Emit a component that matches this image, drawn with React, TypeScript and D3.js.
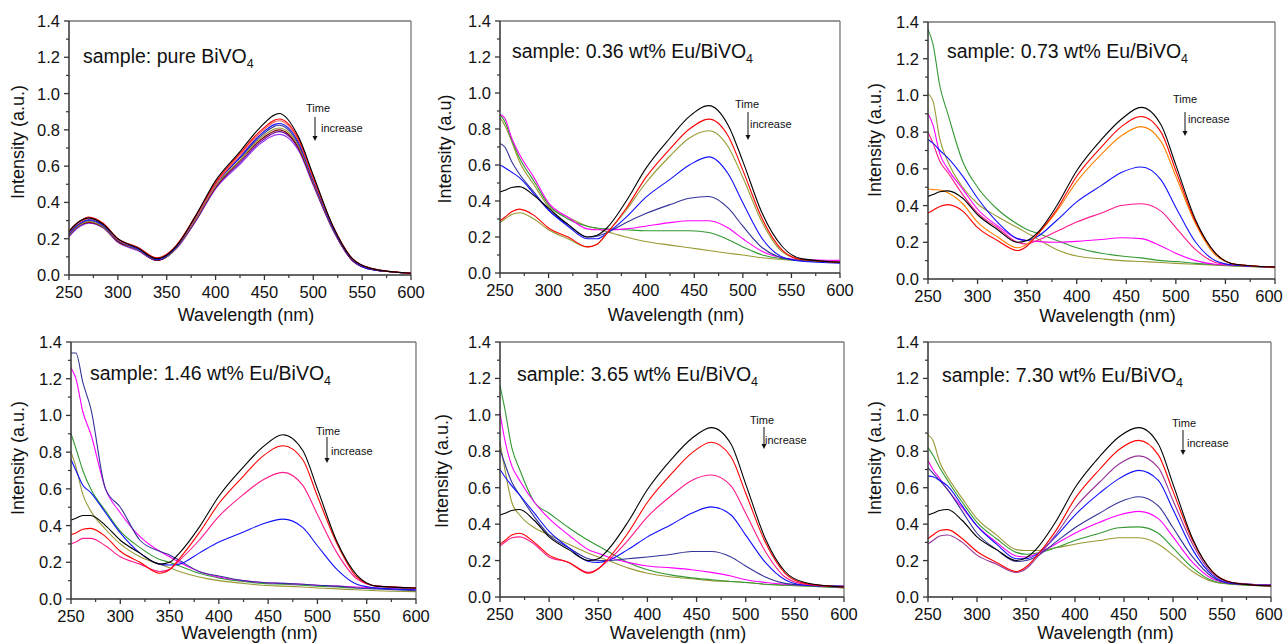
import React from "react";
import * as d3 from "d3";

// ---------- DATA ----------
const wavelengths = [250, 255, 262, 270, 285, 300, 320, 340, 350, 360, 380, 400, 425, 445, 465, 485, 500, 520, 540, 560, 600];
const xTicks = [250, 300, 350, 400, 450, 500, 550, 600];
const yTicks = [0.0, 0.2, 0.4, 0.6, 0.8, 1.0, 1.2, 1.4];

const sampleNames = ["pure BiVO", "0.36 wt% Eu/BiVO", "0.73 wt% Eu/BiVO", "1.46 wt% Eu/BiVO", "3.65 wt% Eu/BiVO", "7.30 wt% Eu/BiVO"];
const yTitles = ["Intensity (a.u.)", "Intensity (a.u)", "Intensity (a.u.)", "Intensity (a.u.)", "Intensity (a.u.)", "Intensity (a.u.)"];

// panel 1: pure BiVO4
const p1Black = [0.24, 0.27, 0.30, 0.315, 0.28, 0.20, 0.15, 0.09, 0.11, 0.16, 0.33, 0.52, 0.68, 0.81, 0.89, 0.76, 0.55, 0.27, 0.09, 0.035, 0.01];
const p1Red = [0.24, 0.27, 0.30, 0.32, 0.285, 0.20, 0.155, 0.095, 0.115, 0.165, 0.33, 0.51, 0.67, 0.79, 0.86, 0.75, 0.54, 0.27, 0.09, 0.035, 0.01];
const p1LightRed = [0.235, 0.265, 0.295, 0.31, 0.28, 0.195, 0.15, 0.09, 0.11, 0.16, 0.32, 0.50, 0.66, 0.78, 0.85, 0.74, 0.53, 0.27, 0.09, 0.035, 0.01];
const p1Blue = [0.23, 0.26, 0.29, 0.305, 0.275, 0.195, 0.145, 0.085, 0.105, 0.155, 0.32, 0.50, 0.65, 0.77, 0.835, 0.73, 0.52, 0.26, 0.085, 0.03, 0.01];
const p1Navy = [0.225, 0.255, 0.285, 0.30, 0.27, 0.19, 0.145, 0.085, 0.105, 0.155, 0.32, 0.50, 0.645, 0.76, 0.825, 0.72, 0.52, 0.26, 0.085, 0.03, 0.01];
const p1Olive = [0.22, 0.25, 0.28, 0.295, 0.265, 0.19, 0.14, 0.085, 0.10, 0.15, 0.31, 0.49, 0.635, 0.75, 0.81, 0.71, 0.51, 0.255, 0.085, 0.03, 0.01];
const p1Wine = [0.22, 0.25, 0.28, 0.29, 0.265, 0.185, 0.14, 0.08, 0.10, 0.15, 0.31, 0.485, 0.63, 0.74, 0.80, 0.70, 0.505, 0.255, 0.08, 0.03, 0.01];
const p1Purple = [0.215, 0.245, 0.275, 0.29, 0.26, 0.185, 0.14, 0.08, 0.10, 0.15, 0.30, 0.48, 0.62, 0.73, 0.79, 0.695, 0.50, 0.25, 0.08, 0.03, 0.01];
const p1Violet = [0.21, 0.24, 0.27, 0.285, 0.26, 0.18, 0.135, 0.08, 0.10, 0.145, 0.30, 0.475, 0.61, 0.72, 0.775, 0.685, 0.495, 0.25, 0.08, 0.03, 0.01];

// panel 2: 0.36 wt%
const p2Black = [0.45, 0.46, 0.475, 0.48, 0.43, 0.36, 0.27, 0.20, 0.21, 0.25, 0.40, 0.58, 0.75, 0.87, 0.93, 0.82, 0.62, 0.33, 0.15, 0.08, 0.06];
const p2Red = [0.29, 0.31, 0.34, 0.355, 0.32, 0.25, 0.20, 0.145, 0.16, 0.22, 0.36, 0.53, 0.69, 0.80, 0.855, 0.76, 0.57, 0.30, 0.13, 0.075, 0.06];
const p2Olive1 = [0.28, 0.30, 0.325, 0.335, 0.30, 0.24, 0.19, 0.145, 0.16, 0.22, 0.35, 0.50, 0.65, 0.75, 0.79, 0.70, 0.53, 0.28, 0.12, 0.075, 0.06];
const p2Blue = [0.60, 0.585, 0.56, 0.53, 0.44, 0.35, 0.26, 0.19, 0.19, 0.22, 0.31, 0.42, 0.52, 0.60, 0.645, 0.55, 0.39, 0.19, 0.09, 0.065, 0.055];
const p2Navy = [0.72, 0.70, 0.62, 0.55, 0.45, 0.35, 0.27, 0.20, 0.205, 0.225, 0.28, 0.33, 0.38, 0.415, 0.425, 0.36, 0.26, 0.14, 0.085, 0.07, 0.06];
const p2Magenta = [0.88, 0.86, 0.75, 0.66, 0.53, 0.39, 0.31, 0.245, 0.24, 0.24, 0.245, 0.26, 0.28, 0.29, 0.29, 0.25, 0.19, 0.12, 0.085, 0.075, 0.07];
const p2Green = [0.88, 0.84, 0.74, 0.64, 0.51, 0.38, 0.30, 0.26, 0.25, 0.245, 0.24, 0.235, 0.235, 0.235, 0.225, 0.185, 0.145, 0.10, 0.08, 0.07, 0.065];
const p2Olive2 = [0.86, 0.82, 0.73, 0.62, 0.49, 0.37, 0.31, 0.26, 0.245, 0.23, 0.20, 0.175, 0.155, 0.14, 0.125, 0.11, 0.10, 0.085, 0.075, 0.07, 0.065];

// panel 3: 0.73 wt%
const p3Black = [0.45, 0.46, 0.475, 0.48, 0.44, 0.35, 0.27, 0.20, 0.21, 0.25, 0.40, 0.59, 0.76, 0.87, 0.935, 0.84, 0.62, 0.32, 0.14, 0.08, 0.065];
const p3Red = [0.36, 0.375, 0.395, 0.405, 0.37, 0.28, 0.21, 0.155, 0.18, 0.24, 0.38, 0.56, 0.72, 0.83, 0.885, 0.80, 0.59, 0.31, 0.14, 0.08, 0.065];
const p3Orange = [0.49, 0.487, 0.485, 0.47, 0.41, 0.31, 0.23, 0.17, 0.19, 0.24, 0.37, 0.53, 0.68, 0.78, 0.83, 0.75, 0.56, 0.30, 0.13, 0.08, 0.065];
const p3Blue = [0.76, 0.74, 0.70, 0.66, 0.56, 0.44, 0.31, 0.22, 0.21, 0.23, 0.32, 0.42, 0.51, 0.58, 0.61, 0.54, 0.39, 0.20, 0.10, 0.075, 0.065];
const p3Pink = [0.80, 0.74, 0.64, 0.58, 0.46, 0.36, 0.28, 0.20, 0.19, 0.21, 0.26, 0.31, 0.36, 0.40, 0.41, 0.37, 0.28, 0.16, 0.09, 0.075, 0.065];
const p3Magenta = [0.90, 0.84, 0.68, 0.60, 0.49, 0.38, 0.29, 0.22, 0.21, 0.205, 0.20, 0.205, 0.215, 0.225, 0.22, 0.18, 0.14, 0.10, 0.08, 0.075, 0.065];
const p3Green = [1.36, 1.28, 1.05, 0.90, 0.64, 0.50, 0.38, 0.30, 0.27, 0.25, 0.21, 0.17, 0.14, 0.125, 0.115, 0.10, 0.095, 0.085, 0.078, 0.072, 0.062];
const p3Olive = [1.01, 0.97, 0.76, 0.64, 0.50, 0.41, 0.34, 0.28, 0.25, 0.22, 0.16, 0.125, 0.11, 0.10, 0.095, 0.09, 0.085, 0.08, 0.075, 0.07, 0.065];

// panel 4: 1.46 wt%
const p4Black = [0.43, 0.44, 0.455, 0.455, 0.40, 0.32, 0.25, 0.19, 0.20, 0.25, 0.39, 0.56, 0.72, 0.83, 0.895, 0.81, 0.60, 0.31, 0.13, 0.07, 0.06];
const p4Red = [0.35, 0.36, 0.38, 0.385, 0.34, 0.26, 0.20, 0.14, 0.16, 0.22, 0.36, 0.52, 0.67, 0.78, 0.835, 0.76, 0.56, 0.30, 0.12, 0.07, 0.06];
const p4Pink = [0.30, 0.31, 0.33, 0.33, 0.29, 0.23, 0.19, 0.15, 0.16, 0.21, 0.32, 0.45, 0.57, 0.65, 0.69, 0.62, 0.46, 0.25, 0.11, 0.07, 0.06];
const p4Blue = [0.76, 0.70, 0.62, 0.58, 0.47, 0.36, 0.25, 0.19, 0.185, 0.19, 0.25, 0.31, 0.365, 0.41, 0.435, 0.39, 0.29, 0.16, 0.08, 0.06, 0.05];
const p4Navy = [1.34, 1.34, 1.18, 1.04, 0.60, 0.50, 0.32, 0.26, 0.24, 0.21, 0.15, 0.125, 0.10, 0.09, 0.085, 0.08, 0.075, 0.07, 0.06, 0.055, 0.045];
const p4Magenta = [1.26, 1.20, 1.02, 0.90, 0.60, 0.47, 0.34, 0.26, 0.23, 0.20, 0.15, 0.12, 0.10, 0.09, 0.085, 0.08, 0.075, 0.07, 0.065, 0.06, 0.05];
const p4Green = [0.90, 0.82, 0.70, 0.60, 0.48, 0.37, 0.28, 0.215, 0.20, 0.18, 0.14, 0.115, 0.095, 0.085, 0.08, 0.075, 0.07, 0.065, 0.06, 0.06, 0.055];
const p4Olive = [0.80, 0.72, 0.57, 0.48, 0.38, 0.30, 0.23, 0.19, 0.17, 0.15, 0.12, 0.10, 0.085, 0.075, 0.07, 0.065, 0.06, 0.055, 0.05, 0.045, 0.04];

// panel 5: 3.65 wt%
const p5Black = [0.45, 0.46, 0.475, 0.48, 0.42, 0.33, 0.26, 0.20, 0.21, 0.26, 0.41, 0.59, 0.76, 0.87, 0.93, 0.84, 0.62, 0.32, 0.14, 0.08, 0.055];
const p5Red = [0.29, 0.31, 0.34, 0.35, 0.30, 0.23, 0.19, 0.13, 0.155, 0.21, 0.35, 0.52, 0.68, 0.79, 0.85, 0.77, 0.57, 0.30, 0.13, 0.075, 0.055];
const p5Pink = [0.28, 0.30, 0.325, 0.33, 0.29, 0.22, 0.19, 0.135, 0.155, 0.20, 0.31, 0.44, 0.56, 0.64, 0.67, 0.61, 0.46, 0.25, 0.11, 0.07, 0.055];
const p5Blue = [0.70, 0.66, 0.61, 0.56, 0.46, 0.36, 0.27, 0.195, 0.19, 0.20, 0.26, 0.33, 0.40, 0.46, 0.495, 0.45, 0.34, 0.19, 0.095, 0.065, 0.055];
const p5Navy = [0.81, 0.73, 0.63, 0.56, 0.44, 0.34, 0.27, 0.21, 0.20, 0.20, 0.21, 0.22, 0.235, 0.25, 0.25, 0.22, 0.17, 0.11, 0.075, 0.065, 0.06];
const p5Magenta = [1.01, 0.86, 0.72, 0.64, 0.52, 0.43, 0.34, 0.26, 0.24, 0.22, 0.19, 0.17, 0.16, 0.15, 0.135, 0.115, 0.095, 0.08, 0.07, 0.065, 0.06];
const p5Green = [1.16, 1.03, 0.82, 0.70, 0.52, 0.46, 0.38, 0.31, 0.28, 0.25, 0.19, 0.15, 0.12, 0.105, 0.095, 0.085, 0.08, 0.07, 0.065, 0.06, 0.05];
const p5Olive = [0.85, 0.70, 0.52, 0.45, 0.38, 0.34, 0.29, 0.24, 0.22, 0.20, 0.16, 0.13, 0.11, 0.10, 0.09, 0.085, 0.08, 0.07, 0.065, 0.06, 0.05];

// panel 6: 7.30 wt%
const p6Black = [0.45, 0.46, 0.475, 0.48, 0.42, 0.33, 0.26, 0.20, 0.215, 0.26, 0.41, 0.60, 0.77, 0.88, 0.93, 0.84, 0.62, 0.32, 0.14, 0.08, 0.06];
const p6Red = [0.32, 0.34, 0.365, 0.37, 0.32, 0.25, 0.19, 0.14, 0.165, 0.22, 0.36, 0.54, 0.70, 0.81, 0.86, 0.78, 0.58, 0.31, 0.14, 0.08, 0.06];
const p6Purple = [0.29, 0.31, 0.335, 0.34, 0.30, 0.23, 0.18, 0.135, 0.155, 0.21, 0.34, 0.49, 0.63, 0.73, 0.775, 0.71, 0.53, 0.29, 0.13, 0.08, 0.065];
const p6Blue = [0.665, 0.66, 0.64, 0.61, 0.50, 0.39, 0.29, 0.21, 0.21, 0.23, 0.33, 0.45, 0.57, 0.65, 0.695, 0.64, 0.48, 0.26, 0.12, 0.075, 0.065];
const p6Navy = [0.71, 0.68, 0.64, 0.59, 0.47, 0.35, 0.26, 0.195, 0.20, 0.22, 0.30, 0.38, 0.46, 0.52, 0.55, 0.50, 0.38, 0.22, 0.11, 0.075, 0.065];
const p6Magenta = [0.75, 0.70, 0.65, 0.59, 0.49, 0.39, 0.30, 0.225, 0.22, 0.235, 0.29, 0.35, 0.41, 0.45, 0.47, 0.43, 0.33, 0.19, 0.10, 0.075, 0.065];
const p6Green = [0.82, 0.78, 0.71, 0.64, 0.52, 0.41, 0.32, 0.245, 0.235, 0.24, 0.27, 0.31, 0.35, 0.38, 0.385, 0.35, 0.27, 0.16, 0.09, 0.07, 0.06];
const p6Olive = [0.89, 0.86, 0.74, 0.66, 0.54, 0.43, 0.34, 0.26, 0.255, 0.255, 0.27, 0.29, 0.31, 0.325, 0.325, 0.29, 0.23, 0.14, 0.085, 0.07, 0.06];

// ---------- STYLE / LAYOUT ----------
const C = {
  black: "#000000", red: "#ff0000", lightRed: "#ff5a5a", blue: "#1010ff", navy: "#333399",
  olive: "#999933", wine: "#800000", purple: "#660099", violet: "#9933ff", magenta: "#ff00ff",
  green: "#339933", orange: "#ff8000", pink: "#ff1a8c", plum: "#993399",
};

const panelSeries = [
  [[p1Violet, C.violet], [p1Purple, C.purple], [p1Wine, C.wine], [p1Olive, C.olive], [p1Navy, C.navy], [p1Blue, C.blue], [p1LightRed, C.lightRed], [p1Red, C.red], [p1Black, C.black]],
  [[p2Olive2, C.olive], [p2Green, C.green], [p2Magenta, C.magenta], [p2Navy, C.navy], [p2Blue, C.blue], [p2Olive1, C.olive], [p2Red, C.red], [p2Black, C.black]],
  [[p3Olive, C.olive], [p3Green, C.green], [p3Magenta, C.magenta], [p3Pink, C.pink], [p3Blue, C.blue], [p3Orange, C.orange], [p3Red, C.red], [p3Black, C.black]],
  [[p4Olive, C.olive], [p4Green, C.green], [p4Magenta, C.magenta], [p4Navy, C.navy], [p4Blue, C.blue], [p4Pink, C.pink], [p4Red, C.red], [p4Black, C.black]],
  [[p5Olive, C.olive], [p5Green, C.green], [p5Magenta, C.magenta], [p5Navy, C.navy], [p5Blue, C.blue], [p5Pink, C.pink], [p5Red, C.red], [p5Black, C.black]],
  [[p6Olive, C.olive], [p6Green, C.green], [p6Magenta, C.magenta], [p6Navy, C.navy], [p6Blue, C.blue], [p6Purple, C.plum], [p6Red, C.red], [p6Black, C.black]],
];

// plot rectangles and annotation anchors
const layouts = [
  { x0: 69, x1: 411, y0: 21, y1: 275, xt: 321, tx: 83, ty: 63, yt: { x: 24, y: 142 }, time: { x: 306, y: 112 }, arrow: { x: 315, y0: 117, y1: 141 } },
  { x0: 500, x1: 840, y0: 21, y1: 273, xt: 321, tx: 512, ty: 58, yt: { x: 451, y: 149 }, time: { x: 735, y: 108 }, arrow: { x: 748, y0: 112, y1: 140 } },
  { x0: 928, x1: 1275, y0: 22, y1: 279, xt: 322, tx: 947, ty: 58, yt: { x: 881, y: 140 }, time: { x: 1173, y: 103 }, arrow: { x: 1185, y0: 112, y1: 136 } },
  { x0: 71, x1: 416, y0: 342, y1: 599, xt: 639, tx: 90, ty: 380, yt: { x: 24, y: 458 }, time: { x: 316, y: 435 }, arrow: { x: 327, y0: 437, y1: 463 } },
  { x0: 500, x1: 844, y0: 342, y1: 597, xt: 639, tx: 517, ty: 381, yt: { x: 448, y: 471 }, time: { x: 750, y: 424 }, arrow: { x: 764, y0: 427, y1: 449 } },
  { x0: 928, x1: 1271, y0: 342, y1: 597, xt: 639, tx: 942, ty: 382, yt: { x: 881, y: 458 }, time: { x: 1172, y: 427 }, arrow: { x: 1183, y0: 430, y1: 455 } },
];

const FONT = "'Liberation Sans', Arial, sans-serif";

function Panel({ idx }: { idx: number }) {
  const L = layouts[idx];
  const x = d3.scaleLinear().domain([250, 600]).range([L.x0, L.x1]);
  const y = d3.scaleLinear().domain([0, 1.4]).range([L.y1, L.y0]);
  const line = d3
    .line<number>()
    .x((_, i) => x(wavelengths[i]))
    .y((v) => y(v))
    .curve(d3.curveMonotoneX);
  const xMinor = d3.range(275, 600, 50);
  const yMinor = d3.range(0.1, 1.4, 0.2);
  const axisColor = "#333";
  return (
    <g>
      {/* frame top/right */}
      <line x1={L.x0} x2={L.x1} y1={L.y0} y2={L.y0} stroke="#777" strokeWidth={1.3} />
      <line x1={L.x1} x2={L.x1} y1={L.y0} y2={L.y1} stroke="#777" strokeWidth={1.3} />
      {/* series */}
      {panelSeries[idx].map(([vals, col], i) => (
        <path key={i} d={line(vals as number[]) || ""} fill="none" stroke={col as string} strokeWidth={1.1} />
      ))}
      {/* axes */}
      <line x1={L.x0} x2={L.x1} y1={L.y1} y2={L.y1} stroke={axisColor} strokeWidth={1.5} />
      <line x1={L.x0} x2={L.x0} y1={L.y0} y2={L.y1} stroke={axisColor} strokeWidth={1.5} />
      {xTicks.map((t) => (
        <g key={"xt" + t}>
          <line x1={x(t)} x2={x(t)} y1={L.y1} y2={L.y1 + 5} stroke={axisColor} strokeWidth={1.3} />
          <text x={Math.min(x(t), 1269)} y={L.y1 + 23} fontSize={16.5} textAnchor="middle" fontFamily={FONT} fill="#111">
            {t}
          </text>
        </g>
      ))}
      {xMinor.map((t) => (
        <line key={"xm" + t} x1={x(t)} x2={x(t)} y1={L.y1} y2={L.y1 + 3} stroke={axisColor} strokeWidth={1.2} />
      ))}
      {yTicks.map((t) => (
        <g key={"yt" + t}>
          <line x1={L.x0 - 5} x2={L.x0} y1={y(t)} y2={y(t)} stroke={axisColor} strokeWidth={1.3} />
          <text x={L.x0 - 9} y={y(t) + 6} fontSize={16.5} textAnchor="end" fontFamily={FONT} fill="#111">
            {t.toFixed(1)}
          </text>
        </g>
      ))}
      {yMinor.map((t) => (
        <line key={"ym" + t.toFixed(1)} x1={L.x0 - 3} x2={L.x0} y1={y(t)} y2={y(t)} stroke={axisColor} strokeWidth={1.2} />
      ))}
      {/* axis titles */}
      <text x={(L.x0 + L.x1) / 2 + 6} y={L.xt} fontSize={18} textAnchor="middle" fontFamily={FONT} fill="#111">
        Wavelength (nm)
      </text>
      <text
        transform={`translate(${L.yt.x},${L.yt.y}) rotate(-90)`}
        fontSize={18}
        textAnchor="middle"
        fontFamily={FONT}
        fill="#111"
      >
        {yTitles[idx]}
      </text>
      {/* sample label */}
      <text x={L.tx} y={L.ty} fontSize={19.5} fontFamily={FONT} fill="#111">
        {"sample: " + sampleNames[idx]}
        <tspan fontSize={12.5} dy={5}>4</tspan>
      </text>
      {/* Time increase */}
      <text x={L.time.x} y={L.time.y} fontSize={11} fontFamily={FONT} fill="#111">Time</text>
      <text x={L.time.x + 15} y={L.time.y + 20} fontSize={11} fontFamily={FONT} fill="#111">increase</text>
      <line x1={L.arrow.x} x2={L.arrow.x} y1={L.arrow.y0} y2={L.arrow.y1 - 4} stroke="#111" strokeWidth={1} />
      <path
        d={`M${L.arrow.x - 2.5},${L.arrow.y1 - 5} L${L.arrow.x + 2.5},${L.arrow.y1 - 5} L${L.arrow.x},${L.arrow.y1} Z`}
        fill="#111"
      />
    </g>
  );
}

export default function App() {
  return (
    <svg
      width={1285}
      height={644}
      style={{ position: "absolute", left: 0, top: 0, background: "#fff" }}
    >
      <rect width={1285} height={644} fill="#fff" />
      {layouts.map((_, i) => (
        <Panel key={i} idx={i} />
      ))}
    </svg>
  );
}
